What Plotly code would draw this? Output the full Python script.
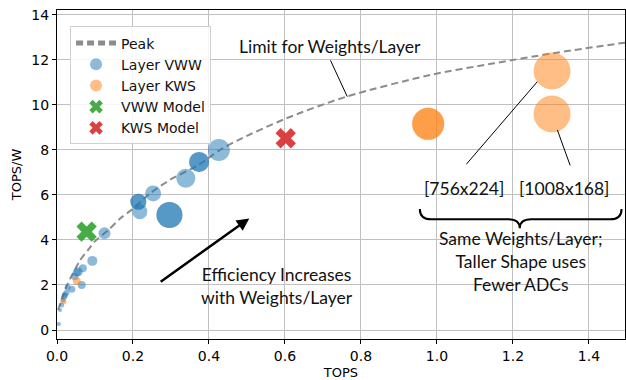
import plotly.graph_objects as go

# Peak efficiency curve (limit set by weights per layer)
peak_tops = [0.003, 0.025, 0.061, 0.082, 0.10, 0.135, 0.166, 0.197, 0.245, 0.30, 0.372, 0.429, 0.477, 0.60, 0.762, 0.982, 1.15, 1.306, 1.495]
peak_topsw = [0.89, 1.93, 3.10, 3.56, 3.95, 4.44, 4.95, 5.35, 6.07, 6.70, 7.33, 8.00, 8.44, 9.38, 10.37, 11.33, 11.85, 12.30, 12.77]

# Per-layer results, VWW network
vww_tops = [0.426, 0.374, 0.374, 0.339, 0.253, 0.214, 0.214, 0.218, 0.296, 0.296, 0.125, 0.093,
            0.068, 0.056, 0.052, 0.047, 0.065, 0.039, 0.028, 0.025, 0.021, 0.019, 0.016, 0.012, 0.008, 0.005]
vww_topsw = [8.00, 7.47, 7.47, 6.74, 6.07, 5.70, 5.70, 5.26, 5.11, 5.11, 4.30, 3.07,
             2.74, 2.59, 2.55, 2.37, 2.00, 1.81, 1.90, 1.66, 1.55, 1.48, 1.33, 1.11, 0.89, 0.27]
vww_size = [22, 20, 20, 19, 16, 16, 16, 15, 26, 26, 12, 10,
            8, 9, 8, 7, 8, 7, 6, 6, 6, 6, 5, 5, 4, 4]

# Per-layer results, KWS network
kws_tops = [0.977, 0.977, 1.303, 1.303, 0.052, 0.017]
kws_topsw = [9.16, 9.16, 11.51, 9.60, 2.18, 1.27]
kws_size = [32, 32, 37, 37, 8, 6]

# Whole-model results
vww_model = (0.078, 4.37)
kws_model = (0.602, 8.52)

BLUE = "rgba(31,119,180,0.72)"
ORANGE = "rgba(255,127,14,0.72)"
GREEN = "rgba(44,160,44,0.88)"
RED = "rgba(214,39,40,0.88)"
TXT = "Lato, 'Open Sans', sans-serif"
TXT_SIZE = 17.5

fig = go.Figure()
fig.add_trace(go.Scatter(
    x=peak_tops, y=peak_topsw, mode="lines", name="Peak",
    line=dict(color="#8c8c8c", width=2, dash="7px,4px", shape="spline", smoothing=0.8),
))
fig.add_trace(go.Scatter(
    x=vww_tops, y=vww_topsw, mode="markers", name="Layer VWW",
    marker=dict(size=vww_size, color=BLUE, line=dict(width=0)),
))
fig.add_trace(go.Scatter(
    x=kws_tops, y=kws_topsw, mode="markers", name="Layer KWS",
    marker=dict(size=kws_size, color=ORANGE, line=dict(width=0)),
))
fig.add_trace(go.Scatter(
    x=[vww_model[0]], y=[vww_model[1]], mode="markers", name="VWW Model",
    marker=dict(symbol="x", size=18, color=GREEN, line=dict(width=0)),
))
fig.add_trace(go.Scatter(
    x=[kws_model[0]], y=[kws_model[1]], mode="markers", name="KWS Model",
    marker=dict(symbol="x", size=18, color=RED, line=dict(width=0)),
))

annotations = [
    # label of the peak curve with a leader line
    dict(x=0.764, y=10.37, ax=0.718, ay=12.05, axref="x", ayref="y", xref="x", yref="y",
         text="", showarrow=True, arrowhead=0, arrowwidth=1, arrowcolor="black"),
    dict(x=0.718, y=12.58, xref="x", yref="y", text="Limit for Weights/Layer", showarrow=False,
         font=dict(family=TXT, size=TXT_SIZE, color="#111")),
    # efficiency trend arrow
    dict(x=0.506, y=4.96, ax=0.269, ay=2.10, axref="x", ayref="y", xref="x", yref="y",
         text="", showarrow=True, arrowhead=2, arrowsize=1, arrowwidth=2.5, arrowcolor="black"),
    dict(x=0.578, y=1.95, xref="x", yref="y", text="Efficiency Increases<br>with Weights/Layer",
         showarrow=False, align="center", font=dict(family=TXT, size=TXT_SIZE, color="#111")),
    # shape labels for the two KWS layers
    dict(x=1.264, y=11.03, ax=1.074, ay=7.30, axref="x", ayref="y", xref="x", yref="y",
         text="", showarrow=True, arrowhead=0, arrowwidth=1, arrowcolor="black"),
    dict(x=1.317, y=8.89, ax=1.352, ay=7.25, axref="x", ayref="y", xref="x", yref="y",
         text="", showarrow=True, arrowhead=0, arrowwidth=1, arrowcolor="black"),
    dict(x=1.07, y=6.3, xref="x", yref="y", text="[756x224]", showarrow=False,
         font=dict(family=TXT, size=TXT_SIZE, color="#111")),
    dict(x=1.334, y=6.3, xref="x", yref="y", text="[1008x168]", showarrow=False,
         font=dict(family=TXT, size=TXT_SIZE, color="#111")),
    dict(x=1.22, y=3.04, xref="x", yref="y",
         text="Same Weights/Layer;<br>Taller Shape uses<br>Fewer ADCs",
         showarrow=False, align="center", font=dict(family=TXT, size=TXT_SIZE, color="#111")),
]

# curly brace under the two shape labels (data coordinates)
x0, xm, x1 = 0.955, 1.218, 1.486
yt, yl, ytip = 5.38, 4.92, 4.52
brace = (f"M {x0},{yt} Q {x0},{yl} {x0+0.03},{yl} L {xm-0.03},{yl} "
         f"Q {xm},{yl} {xm},{ytip} Q {xm},{yl} {xm+0.03},{yl} "
         f"L {x1-0.03},{yl} Q {x1},{yl} {x1},{yt}")

fig.update_layout(
    width=626, height=380,
    margin=dict(l=57, r=1, t=10, b=41),
    paper_bgcolor="white", plot_bgcolor="white",
    font=dict(family="DejaVu Sans", size=14, color="black"),
    showlegend=True,
    legend=dict(
        x=0.023, y=0.95, xanchor="left", yanchor="top",
        bgcolor="rgba(255,255,255,0.85)", bordercolor="#d0d0d0", borderwidth=1,
        font=dict(family="DejaVu Sans", size=14, color="#111"),
        itemsizing="constant", tracegroupgap=0, itemwidth=40,
    ),
    annotations=annotations,
    shapes=[dict(type="path", path=brace, xref="x", yref="y",
                 line=dict(color="black", width=2))],
    xaxis=dict(
        range=[0, 1.495], tickvals=[0, 0.2, 0.4, 0.6, 0.8, 1.0, 1.2, 1.4],
        ticktext=["0.0", "0.2", "0.4", "0.6", "0.8", "1.0", "1.2", "1.4"],
        showgrid=True, gridcolor="#c0c0c0", gridwidth=1,
        showline=True, linecolor="black", linewidth=1.2, mirror=True,
        ticks="outside", ticklen=4, tickcolor="black", zeroline=False,
        title=dict(text="TOPS", font=dict(size=13), standoff=6),
    ),
    yaxis=dict(
        range=[-0.4, 14.22], tickvals=[0, 2, 4, 6, 8, 10, 12, 14],
        showgrid=True, gridcolor="#c0c0c0", gridwidth=1,
        showline=True, linecolor="black", linewidth=1.2, mirror=True,
        ticks="outside", ticklen=4, tickcolor="black", zeroline=False,
        title=dict(text="TOPS/W", font=dict(size=13), standoff=6),
    ),
)

fig.write_html("out.html")
